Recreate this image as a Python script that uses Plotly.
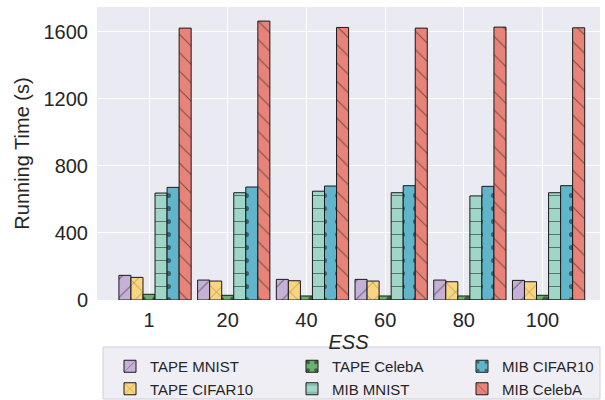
import plotly.graph_objects as go

# ---- data ----
ess_labels = ["1", "20", "40", "60", "80", "100"]
series_names = ["TAPE MNIST", "TAPE CIFAR10", "TAPE CelebA", "MIB MNIST", "MIB CIFAR10", "MIB CelebA"]
tape_mnist = [147, 119, 123, 123, 119, 117]
tape_cifar10 = [135, 113, 115, 113, 109, 109]
tape_celeba = [34, 28, 24, 24, 24, 28]
mib_mnist = [638, 640, 649, 640, 621, 640]
mib_cifar10 = [672, 674, 680, 682, 678, 682]
mib_celeba = [1622, 1664, 1626, 1622, 1628, 1624]
y_ticks = [0, 400, 800, 1200, 1600]

series_values = [tape_mnist, tape_cifar10, tape_celeba, mib_mnist, mib_cifar10, mib_celeba]

# ---- styles ----
colors = ["#c5b1d6", "#f8d57e", "#6bb06e", "#9fd6c8", "#60b5cb", "#e8837a"]
patterns = ["/", "x", ".", "-", ".", "\\"]
solid = [0.08, 0.08, 0.2, 0.08, 0.12, 0.08]
legend_ids = ["legend", "legend", "legend2", "legend2", "legend3", "legend3"]

w = 0.153
FONT = "Liberation Sans, Arial, sans-serif"

fig = go.Figure()
for k, (name, vals) in enumerate(zip(series_names, series_values)):
    fig.add_trace(go.Bar(
        x=ess_labels, y=vals, name=name,
        width=w, offset=(k - 2) * w - w / 2,
        marker=dict(
            color=colors[k],
            line=dict(color="#1a1a1a", width=1),
            pattern=dict(shape=patterns[k], fgcolor="#111111", bgcolor=colors[k],
                         size=13, solidity=solid[k], fillmode="overlay"),
        ),
        legend=legend_ids[k],
    ))

box_x0 = (103 - 97) / 503
box_x1 = 1.0
box_y0 = (300 - 399) / 293
box_y1 = (300 - 347) / 293

fig.add_shape(type="rect", xref="paper", yref="paper",
              x0=box_x0, x1=box_x1, y0=box_y0, y1=box_y1,
              line=dict(color="#cfcfd6", width=1), fillcolor="#eeeef4", layer="below")

leg_common = dict(orientation="v", yanchor="top", xanchor="left",
                  bgcolor="rgba(0,0,0,0)", font=dict(family=FONT, size=15, color="#262626"),
                  itemwidth=30, tracegroupgap=0)
ly = (300 - 350) / 293

fig.update_layout(
    width=605, height=400,
    margin=dict(l=97, r=5, t=7, b=100, autoexpand=False),
    paper_bgcolor="white",
    plot_bgcolor="#eaeaf2",
    barmode="overlay",
    font=dict(family=FONT, size=20, color="#262626"),
    xaxis=dict(
        type="category", range=[-0.661, 5.73],
        showgrid=True, gridcolor="white", gridwidth=1.2,
        showline=False, zeroline=False, ticks="",
        tickfont=dict(size=20, color="#262626"),
        ticklabelstandoff=6,
        title=dict(text="<i>ESS</i>", font=dict(size=20), standoff=4),
    ),
    yaxis=dict(
        range=[0, 1748], tickvals=y_ticks,
        showgrid=True, gridcolor="white", gridwidth=1.2,
        showline=False, zeroline=False, ticks="",
        tickfont=dict(size=20, color="#262626"),
        ticklabelstandoff=8,
        title=dict(text="Running Time (s)", font=dict(size=20), standoff=8),
    ),
    legend=dict(x=(110 - 97) / 503, y=ly, **leg_common),
    legend2=dict(x=(292 - 97) / 503, y=ly, **leg_common),
    legend3=dict(x=(462 - 97) / 503, y=ly, **leg_common),
)

fig.write_html("out.html", config={"displayModeBar": False},
               post_script="document.body.style.margin='0';")
